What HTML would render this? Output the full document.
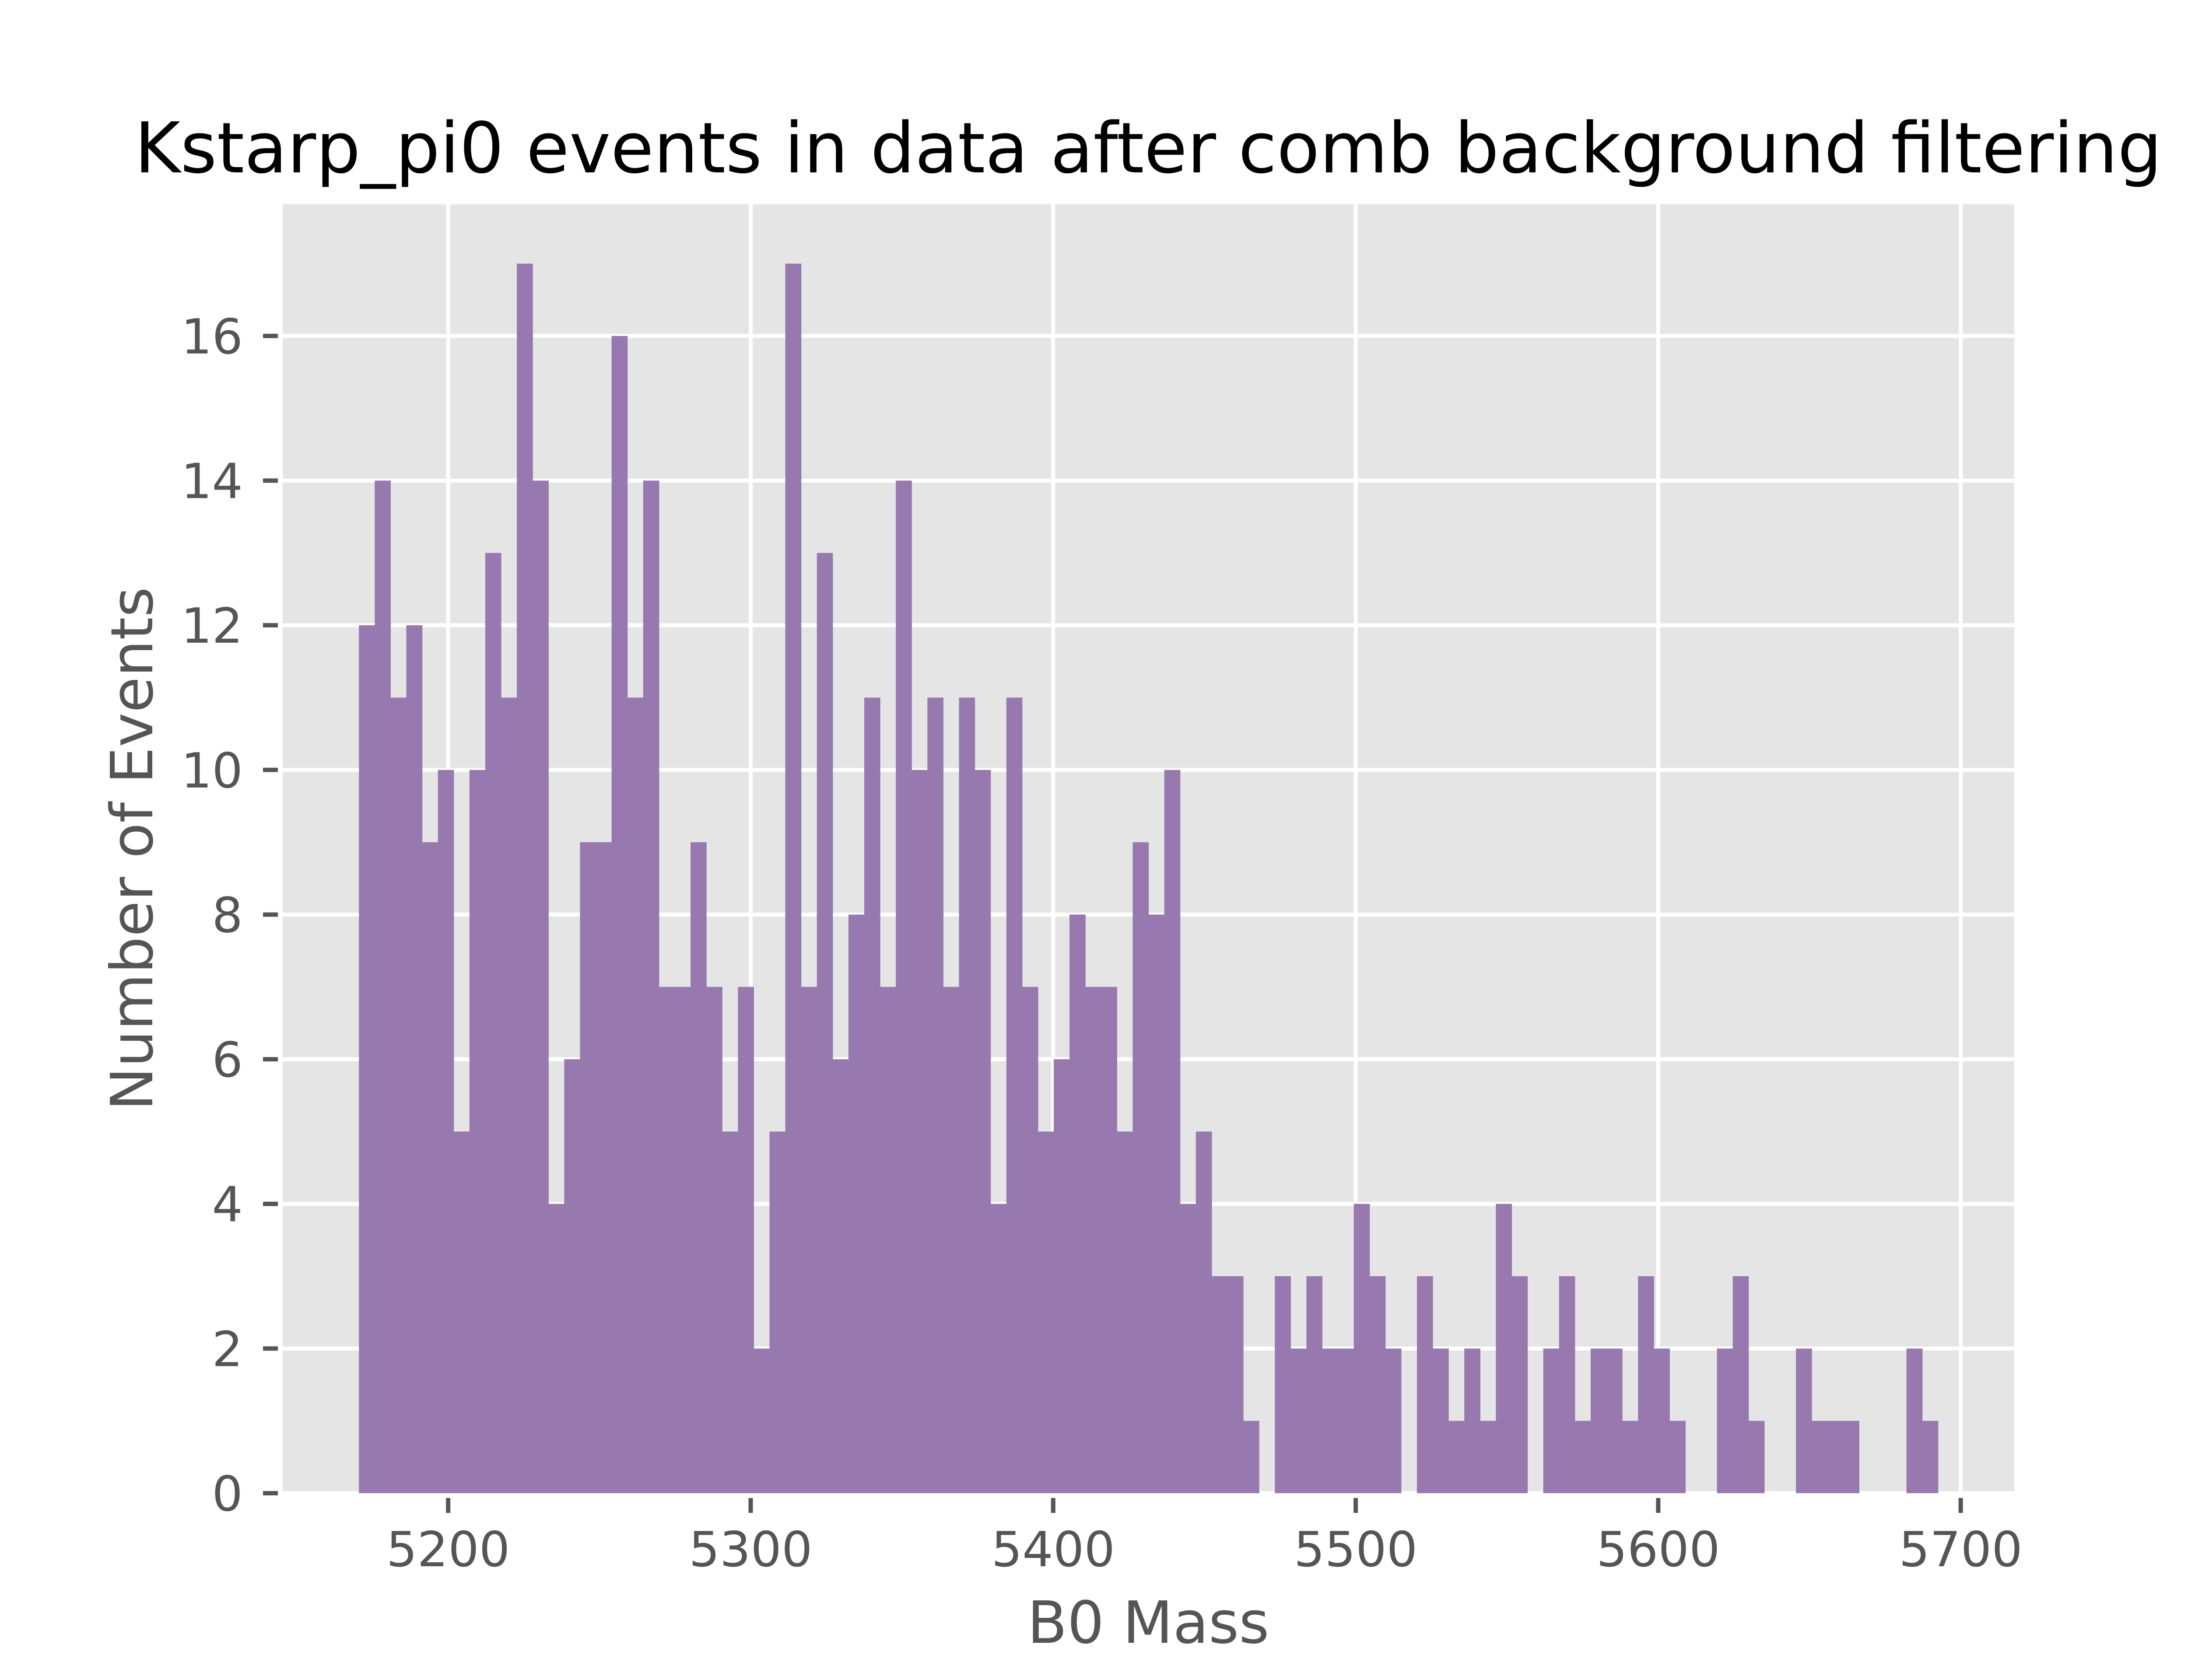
<!DOCTYPE html>
<html><head><meta charset="utf-8"><style>
html,body{margin:0;padding:0;background:#fff;}
svg{display:block;font-family:"DejaVu Sans","Liberation Sans",sans-serif;}
</style></head><body>
<svg id="chart" width="5120" height="3840" viewBox="0 0 5120 3840" xmlns="http://www.w3.org/2000/svg">
<rect x="0" y="0" width="5120" height="3840" fill="#ffffff"/>
<rect x="646" y="467" width="3957" height="2946" fill="#e5e5e5"/>
<g id="grid"></g>
<g id="bars"></g>
<g id="xticks"></g>
<g id="yticks"></g>
<text x="2624" y="394" text-anchor="middle" font-size="160" fill="#000">Kstarp_pi0 events in data after comb background filtering</text>
<text x="2624" y="3755" text-anchor="middle" font-size="133" fill="#555555">B0 Mass</text>
<text transform="translate(348,1940) rotate(-90)" x="0" y="0" text-anchor="middle" font-size="133" fill="#555555">Number of Events</text>
</svg>
<script>
const counts = [12,14,11,12,9,10,5,10,13,11,17,14,4,6,9,9,16,11,14,7,7,9,7,5,7,2,5,17,7,13,6,8,11,7,14,10,11,7,11,10,4,11,7,5,6,8,7,7,5,9,8,10,4,5,3,3,1,0,3,2,3,2,2,4,3,2,0,3,2,1,2,1,4,3,0,2,3,1,2,2,1,3,2,1,0,0,2,3,1,0,0,2,1,1,1,0,0,0,2,1];
const binStart = 5170.5;
const binEnd = 5692.5;
const xTicks = [5200,5300,5400,5500,5600,5700];
const yTicks = [0,2,4,6,8,10,12,14,16];

const NS = "http://www.w3.org/2000/svg";
const L = 646, R = 4603, T = 467, B = 3413;
const xMin = 5145.3, xMax = 5717.7, yMin = 0, yMax = 17.82;
function xs(v){ return L + (v - xMin) / (xMax - xMin) * (R - L); }
function ys(v){ return B - (v - yMin) / (yMax - yMin) * (B - T); }
function mk(tag, attrs, parent){ const e = document.createElementNS(NS, tag); for (const k in attrs) e.setAttribute(k, attrs[k]); parent.appendChild(e); return e; }

const grid = document.getElementById('grid');
const xt = document.getElementById('xticks');
const yt = document.getElementById('yticks');
xTicks.forEach(function(v){
  const g = mk('line', {x1: xs(v), x2: xs(v), y1: T, y2: B, stroke: '#ffffff', 'stroke-width': 9}, grid);
  
  
  const t = mk('line', {x1: xs(v), x2: xs(v), y1: 3424, y2: 3458, stroke: '#555555', 'stroke-width': 10}, xt);
  
  
  const l = mk('text', {x: xs(v), y: 3580, 'text-anchor': 'middle', 'font-size': 111, fill: '#555555'}, xt);
  l.textContent = String(v);
  
  
});
yTicks.forEach(function(v){
  const g = mk('line', {x1: L, x2: R, y1: ys(v), y2: ys(v), stroke: '#ffffff', 'stroke-width': 9}, grid);
  
  
  const t = mk('line', {x1: 601, x2: 635, y1: ys(v), y2: ys(v), stroke: '#555555', 'stroke-width': 10}, yt);
  
  
  const l = mk('text', {x: 555, y: ys(v) + 40, 'text-anchor': 'end', 'font-size': 111, fill: '#555555'}, yt);
  l.textContent = String(v);
  
  
});

const bars = document.getElementById('bars');
const w = (binEnd - binStart) / counts.length;
counts.forEach(function(c, i){
  if (c <= 0) return;
  const x0 = xs(binStart + i * w), x1 = xs(binStart + (i + 1) * w);
  const r = mk('rect', {x: x0, y: ys(c), width: x1 - x0 + 0.6, height: ys(0) - ys(c), fill: '#9779b0'}, bars);
  
  
});
</script>
</body></html>
